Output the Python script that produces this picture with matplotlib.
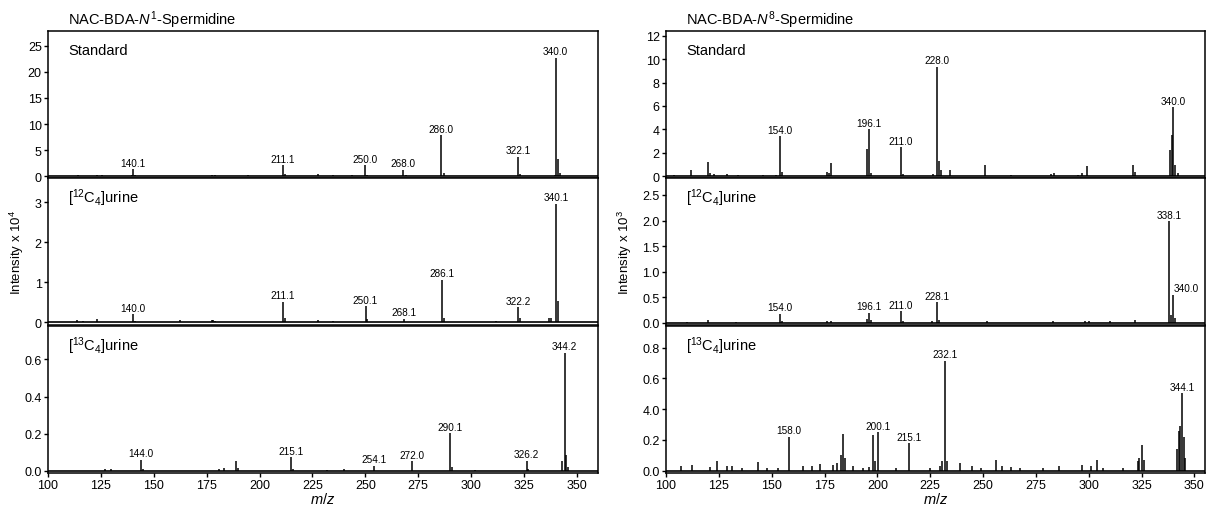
import matplotlib
matplotlib.use("Agg")
import matplotlib.pyplot as plt

plt.rcParams['font.family'] = ['Liberation Sans', 'DejaVu Sans']
plt.rcParams['mathtext.fontset'] = 'custom'
plt.rcParams['mathtext.rm'] = 'Liberation Sans'
plt.rcParams['mathtext.it'] = 'Liberation Sans:italic'

# ---- data: m/z and intensity ----
# NAC-BDA-N1-Spermidine, Standard (x 10^4)
n1_std_mz = [114, 123, 125.5, 139.5, 140.1, 141, 156, 177.3, 179, 194.7, 211.1, 212,
             227.8, 234.8, 243.5, 250.0, 251, 268.0, 269, 286.0, 287, 304, 322.1, 323,
             339.5, 340.0, 341.0, 342]
n1_std_int = [0.2, 0.35, 0.2, 0.3, 1.4, 0.3, 0.1, 0.3, 0.25, 0.2, 2.2, 0.5,
              0.4, 0.2, 0.2, 2.1, 0.3, 1.3, 0.3, 7.9, 0.6, 0.15, 3.8, 0.5,
              0.3, 22.7, 3.3, 0.6]
n1_std_lab = [140.1, 211.1, 250.0, 268.0, 286.0, 322.1, 340.0]

# NAC-BDA-N1-Spermidine, [12C4]urine (x 10^4)
n1_12c_mz = [113.9, 116.7, 123, 140.0, 141, 162.4, 177.4, 178, 179, 211.1, 212,
             227.8, 234.8, 250.1, 251, 268.1, 286.1, 287, 312, 322.2, 323,
             336.9, 338, 340.1, 341]
n1_12c_int = [0.05, 0.03, 0.08, 0.2, 0.04, 0.05, 0.05, 0.05, 0.04, 0.51, 0.1,
              0.06, 0.04, 0.4, 0.08, 0.09, 1.06, 0.1, 0.04, 0.37, 0.1,
              0.1, 0.1, 2.96, 0.54]
n1_12c_lab = [140.0, 211.1, 250.1, 268.1, 286.1, 322.2, 340.1]

# NAC-BDA-N1-Spermidine, [13C4]urine (x 10^4)
n1_13c_mz = [127, 130, 144.0, 145, 181, 183, 189, 190, 215.1, 216, 232, 240,
             254.1, 272.0, 290.1, 291, 302, 326.2, 327, 343, 344.2, 345, 346]
n1_13c_int = [0.01, 0.008, 0.06, 0.01, 0.01, 0.015, 0.05, 0.015, 0.073, 0.01, 0.006, 0.01,
              0.028, 0.05, 0.204, 0.02, 0.005, 0.054, 0.01, 0.05, 0.636, 0.086, 0.02]
n1_13c_lab = [144.0, 215.1, 254.1, 272.0, 290.1, 326.2, 344.2]

# NAC-BDA-N8-Spermidine, Standard (x 10^3)
n8_std_mz = [104, 111.6, 119.8, 121, 122.5, 129, 134, 146, 152, 154.0, 155, 176.3, 177,
             178.2, 194.9, 196.1, 197, 211.0, 212, 226.5, 228.0, 229, 230, 234.3, 251.1,
             263, 282, 283.5, 295, 297, 299.1, 320.9, 322, 338.5, 339.3, 340.0, 341, 342]
n8_std_int = [0.1, 0.5, 1.2, 0.3, 0.2, 0.15, 0.1, 0.1, 0.1, 3.4, 0.4, 0.4, 0.3,
              1.1, 2.3, 4.0, 0.3, 2.5, 0.2, 0.2, 9.35, 1.3, 0.5, 0.5, 0.95,
              0.1, 0.15, 0.3, 0.1, 0.25, 0.9, 1.0, 0.4, 2.2, 3.5, 5.9, 1.0, 0.3]
n8_std_lab = [154.0, 196.1, 211.0, 228.0, 340.0]

# NAC-BDA-N8-Spermidine, [12C4]urine (x 10^3)
n8_12c_mz = [110, 119.7, 133, 154.0, 155, 176, 178, 195, 196.1, 197, 211.0, 212, 226,
             228.1, 229, 252, 283, 298, 300, 310, 322, 338.1, 339, 340.0, 341]
n8_12c_int = [0.02, 0.05, 0.02, 0.18, 0.04, 0.03, 0.03, 0.08, 0.2, 0.05, 0.23, 0.03, 0.03,
              0.41, 0.06, 0.03, 0.04, 0.03, 0.03, 0.04, 0.05, 1.99, 0.15, 0.55, 0.1]
n8_12c_lab = [154.0, 196.1, 211.0, 228.1, 338.1, 340.0]

# NAC-BDA-N8-Spermidine, [13C4]urine (x 10^3)
n8_13c_mz = [107.1, 112.1, 120.8, 124.0, 128.7, 131.0, 135.8, 143.6, 147.6, 153.1, 158.0,
             164.9, 168.9, 172.8, 179.1, 181.0, 182.6, 183.8, 184.9, 188.5, 193.2, 196.1,
             198.0, 198.8, 200.1, 209.0, 215.1, 224.8, 229.5, 230.8, 232.1, 233.0, 238.9,
             244.9, 249.2, 256.0, 259.1, 263.0, 267.3, 278.3, 285.9, 297.0, 301.2, 304.0,
             306.7, 316.1, 323.2, 324.0, 325.0, 326.0, 341.8, 342.6, 343.4, 344.1, 344.9, 345.7]
n8_13c_int = [0.03, 0.035, 0.025, 0.065, 0.03, 0.03, 0.015, 0.055, 0.02, 0.015, 0.22,
              0.03, 0.03, 0.045, 0.035, 0.05, 0.1, 0.24, 0.08, 0.03, 0.02, 0.025,
              0.23, 0.06, 0.25, 0.02, 0.18, 0.015, 0.03, 0.06, 0.715, 0.06, 0.05,
              0.03, 0.02, 0.07, 0.03, 0.025, 0.02, 0.015, 0.03, 0.04, 0.03, 0.07,
              0.02, 0.015, 0.06, 0.08, 0.17, 0.07, 0.14, 0.26, 0.29, 0.505, 0.22, 0.08]
n8_13c_lab = [158.0, 200.1, 215.1, 232.1, 344.1]

panel_names = ['Standard', '[$^{12}$C$_4$]urine', '[$^{13}$C$_4$]urine']
x_ticks = [100, 125, 150, 175, 200, 225, 250, 275, 300, 325, 350]

left_panels = [
    (n1_std_mz, n1_std_int, n1_std_lab, (-0.3, 27.8), [0, 5, 10, 15, 20, 25], None),
    (n1_12c_mz, n1_12c_int, n1_12c_lab, (-0.07, 3.6), [0, 1, 2, 3], None),
    (n1_13c_mz, n1_13c_int, n1_13c_lab, (-0.012, 0.78), [0.0, 0.2, 0.4, 0.6],
     ['0.0', '0.2', '0.4', '0.6']),
]
right_panels = [
    (n8_std_mz, n8_std_int, n8_std_lab, (-0.15, 12.4), [0, 2, 4, 6, 8, 10, 12], None),
    (n8_12c_mz, n8_12c_int, n8_12c_lab, (-0.04, 2.83), [0.0, 0.5, 1.0, 1.5, 2.0, 2.5],
     ['0.0', '0.5', '1.0', '1.5', '2.0', '2.5']),
    (n8_13c_mz, n8_13c_int, n8_13c_lab, (-0.015, 0.94), [0.0, 0.2, 0.4, 0.6, 0.8],
     ['0.0', '0.2', '4.0', '0.6', '0.8']),
]

fig = plt.figure(figsize=(12.06, 5.06), dpi=100)

W, H = 1206, 506
tops = [32, 179, 327]
ph = 147


def draw_column(x0, x1, panels, xlim, ylab, title):
    axes = []
    for i, (mz, inten, labs, ylim, yt, ytl) in enumerate(panels):
        ax = fig.add_axes([x0 / W, 1 - (tops[i] + ph) / H, (x1 - x0) / W, ph / H])
        ax.vlines(mz, 0, inten, color='k', lw=1.1)
        ax.axhline(0, color='k', lw=1.2)
        for m in labs:
            h = inten[mz.index(m)]
            dx = 0
            if m == 340.0 and ylim[1] < 3:
                dx = 9
            ax.annotate('%.1f' % m, (m, h), xytext=(dx, 1), textcoords='offset points',
                        ha='center', va='bottom', fontsize=7.2)
        ax.set_xlim(*xlim)
        ax.set_ylim(*ylim)
        ax.set_yticks(yt)
        if ytl:
            ax.set_yticklabels(ytl)
        for s in ax.spines.values():
            s.set_linewidth(1.1)
        ax.tick_params(direction='out', length=3, width=1, labelsize=9, pad=1.5)
        ax.text(0.037, 0.87, panel_names[i], transform=ax.transAxes, fontsize=10.5,
                ha='left', va='center')
        if i < 2:
            ax.tick_params(axis='x', bottom=False, labelbottom=False)
        else:
            ax.set_xticks(x_ticks)
            ax.set_xlabel('$\\mathit{m/z}$', fontsize=10.5, labelpad=0)
        axes.append(ax)
    axes[1].set_ylabel(ylab, fontsize=9.5, labelpad=6)
    fig.text((x0 + 20) / W, 1 - 20 / H, title, fontsize=10.5, ha='left', va='center')
    return axes


draw_column(48, 598, left_panels, (100, 360), 'Intensity x 10$^4$',
            'NAC-BDA-$\\mathit{N}^{1}$-Spermidine')
draw_column(666, 1205, right_panels, (100, 355), 'Intensity x 10$^3$',
            'NAC-BDA-$\\mathit{N}^{8}$-Spermidine')

fig.savefig('out.png', dpi=100)
